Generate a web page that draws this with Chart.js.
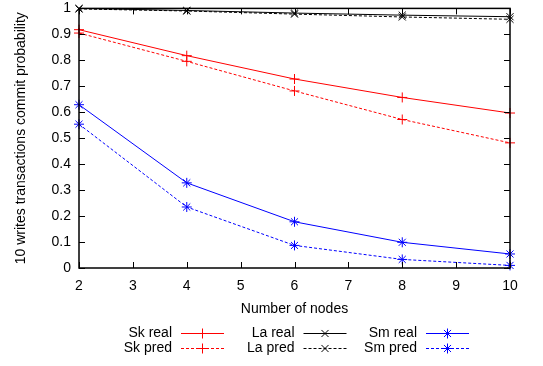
<!DOCTYPE html>
<html>
<head>
<meta charset="utf-8">
<script src="https://cdn.jsdelivr.net/npm/chart.js@4"></script>
<style>
  html, body { margin: 0; padding: 0; background: #fff; }
  #wrap { width: 543px; height: 366px; position: relative; }
</style>
</head>
<body>
<div id="wrap"><canvas id="myChart" width="543" height="366"></canvas></div>
<script>
// data
const nodes = [2, 4, 6, 8, 10];
const skReal = [0.918, 0.818, 0.728, 0.657, 0.597];
const skPred = [0.905, 0.796, 0.682, 0.572, 0.482];
const laReal = [1.0, 0.992, 0.982, 0.974, 0.968];
const laPred = [0.998, 0.990, 0.978, 0.967, 0.958];
const smReal = [0.629, 0.328, 0.178, 0.099, 0.054];
const smPred = [0.554, 0.235, 0.087, 0.033, 0.010];
const xTicks = [2, 3, 4, 5, 6, 7, 8, 9, 10];
const yTicks = ['0', '0.1', '0.2', '0.3', '0.4', '0.5', '0.6', '0.7', '0.8', '0.9', '1'];

const FONT = 'Liberation Sans, Arial, sans-serif';

function makeSet(label, values, color, style, dashed) {
    return {
        label: label,
        data: values.map((v, i) => ({x: nodes[i], y: v})),
        borderColor: color,
        backgroundColor: color,
        borderWidth: 1,
        borderDash: dashed ? [3, 2] : [],
        pointStyle: style,
        pointRadius: 5,
        pointBorderWidth: 1,
        pointBorderColor: color,
        tension: 0,
        clip: false
    };
}

const datasets = [
    makeSet('Sk real', skReal, '#ff0000', 'cross', false),
    makeSet('Sk pred', skPred, '#ff0000', 'cross', true),
    makeSet('La real', laReal, '#000000', 'crossRot', false),
    makeSet('La pred', laPred, '#000000', 'crossRot', true),
    makeSet('Sm real', smReal, '#0000ff', 'star', false),
    makeSet('Sm pred', smPred, '#0000ff', 'star', true)
];

// gnuplot-like frame with inward ticks and the two-row key under the plot
const framePlugin = {
    id: 'frame',
    afterDraw(chart) {
        const ctx = chart.ctx;
        const a = chart.chartArea;
        const xs = chart.scales.x, ys = chart.scales.y;
        ctx.save();
        ctx.strokeStyle = '#000';
        ctx.lineWidth = 1;
        ctx.beginPath();
        xTicks.forEach(t => {
            const px = Math.round(xs.getPixelForValue(t)) + 0.5;
            ctx.moveTo(px, a.bottom); ctx.lineTo(px, a.bottom - 6);
            ctx.moveTo(px, a.top); ctx.lineTo(px, a.top + 6);
        });
        yTicks.forEach(t => {
            const py = Math.round(ys.getPixelForValue(+t)) + 0.5;
            ctx.moveTo(a.left, py); ctx.lineTo(a.left + 6, py);
            ctx.moveTo(a.right, py); ctx.lineTo(a.right - 6, py);
        });
        ctx.stroke();
        ctx.lineWidth = 1.5;
        ctx.strokeRect(a.left, a.top, a.right - a.left, a.bottom - a.top);

        // key
        ctx.font = '14px ' + FONT;
        ctx.textAlign = 'right';
        ctx.textBaseline = 'middle';
        chart.data.datasets.forEach((ds, i) => {
            const col = Math.floor(i / 2), row = i % 2;
            const tx = 172 + col * 122.5;
            const ty = 333 + row * 15;
            ctx.fillStyle = '#000';
            ctx.fillText(ds.label, tx, ty);
            const x0 = tx + 9, x1 = tx + 52;
            ctx.strokeStyle = ds.borderColor;
            ctx.lineWidth = 1;
            ctx.setLineDash(ds.borderDash);
            ctx.beginPath();
            ctx.moveTo(x0, ty + 0.5); ctx.lineTo(x1, ty + 0.5);
            ctx.stroke();
            ctx.setLineDash([]);
            Chart.helpers.drawPoint(ctx, {pointStyle: ds.pointStyle, radius: 5, borderWidth: 1, rotation: 0}, (x0 + x1) / 2, ty + 0.5);
        });
        ctx.restore();
    }
};

new Chart(document.getElementById('myChart'), {
    type: 'line',
    data: {datasets: datasets},
    options: {
        responsive: false,
        animation: false,
        layout: {padding: {left: 0, right: 33, top: 8, bottom: 48}},
        plugins: {legend: {display: false}, tooltip: {enabled: false}},
        scales: {
            x: {
                type: 'linear',
                min: 2, max: 10,
                grid: {display: false},
                border: {display: false},
                afterFit: s => { s.height = 50; },
                afterBuildTicks: s => { s.ticks = xTicks.map(v => ({value: v})); },
                ticks: {color: '#000', padding: 2, font: {family: FONT, size: 14}, maxRotation: 0},
                title: {display: true, text: 'Number of nodes', color: '#000', font: {family: FONT, size: 14}, padding: {top: 0, bottom: 0}}
            },
            y: {
                min: 0, max: 1,
                grid: {display: false},
                border: {display: false},
                afterFit: s => { s.width = 79; },
                afterBuildTicks: s => { s.ticks = yTicks.map(v => ({value: +v})); },
                ticks: {color: '#000', padding: 0, font: {family: FONT, size: 14},
                    callback: (v, i) => yTicks[i]},
                title: {display: true, text: '10 writes transactions commit probability', color: '#000', font: {family: FONT, size: 14}, padding: {top: 13, bottom: 0}}
            }
        }
    },
    plugins: [framePlugin]
});
</script>
</body>
</html>
